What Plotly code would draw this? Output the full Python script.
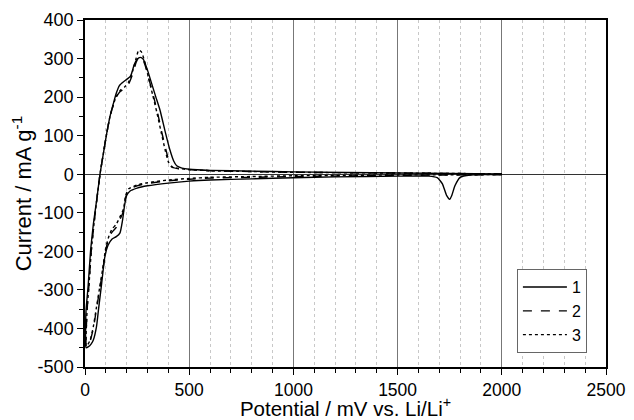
import plotly.graph_objects as go

# ---------- Data (loop: cathodic sweep, then anodic) ----------

X1 = [2000, 1900, 1850, 1800, 1775, 1760, 1750, 1735, 1715, 1690, 1650, 1500, 1200, 1000, 800, 600, 500,
      400, 300, 250, 215, 200, 190, 180, 168, 150, 130, 110, 95, 80, 65, 55, 40, 30, 15, 5,
      3, 5, 15, 27, 40, 56, 72, 90, 104, 120, 136, 150, 165, 185, 205, 220, 235, 250, 265, 280,
      300, 320, 340, 360, 385, 408, 425, 440, 465, 500, 600, 800, 1000, 1500, 2000]
Y1 = [-1, -1, -2, -8, -30, -55, -65, -55, -25, -9, -5, -5, -7, -9, -12, -15, -18,
      -23, -30, -36, -44, -55, -80, -120, -152, -162, -168, -185, -215, -283, -350, -396, -430, -440, -448, -450,
      -400, -353, -290, -197, -130, -67, 0, 60, 105, 150, 183, 210, 230, 240, 248, 256, 282, 298, 303, 298,
      270, 235, 200, 166, 110, 62, 35, 22, 16, 13, 10, 8, 6, 3, 1]

X2 = [2000, 1500, 1000, 800, 600, 500, 400, 300, 250, 210, 195, 185, 170, 150, 130, 115, 100, 85, 70,
      55, 40, 25, 12, 5,
      5, 10, 20, 30, 45, 58, 72, 90, 104, 120, 136, 150, 170, 190, 210, 230, 245, 260, 275, 290,
      310, 330, 350, 370, 390, 405, 420, 450, 500, 600, 800, 1000, 1500, 2000]
Y2 = [-1, -3, -6, -8, -10, -13, -17, -24, -30, -40, -60, -95, -115, -138, -150, -165, -195, -250, -300,
      -350, -400, -432, -445, -447,
      -420, -353, -280, -200, -120, -60, 0, 60, 105, 150, 180, 200, 215, 222, 235, 262, 290, 305, 300, 280,
      240, 200, 155, 105, 60, 30, 18, 14, 12, 9, 7, 5, 3, 1]

X3 = [2000, 1500, 1000, 800, 600, 500, 400, 300, 250, 210, 195, 185, 170, 150, 130, 115, 100, 85, 70,
      55, 40, 25, 12, 5,
      5, 10, 20, 30, 45, 58, 72, 90, 104, 120, 136, 150, 170, 190, 210, 230, 245, 258, 270, 285,
      305, 325, 345, 365, 385, 400, 415, 450, 500, 600, 800, 1000, 1500, 2000]
Y3 = [-1, -2, -4, -6, -8, -11, -15, -22, -28, -38, -55, -90, -108, -130, -142, -160, -190, -245, -295,
      -345, -395, -430, -443, -446,
      -420, -353, -280, -200, -120, -60, 0, 60, 105, 150, 180, 202, 218, 226, 240, 270, 300, 322, 318, 295,
      250, 205, 160, 110, 62, 32, 19, 15, 12, 9, 7, 5, 3, 1]

CURVES = [("1", X1, Y1, "solid"), ("2", X2, Y2, "dash"), ("3", X3, Y3, "dot")]

X_TICKS = [0, 500, 1000, 1500, 2000, 2500]
Y_TICKS = [-500, -400, -300, -200, -100, 0, 100, 200, 300, 400]
Y_TICKTEXT = ["-500", "-400", "-300", "-200", "-100", "0", "100", "200", "300", "400"]

FONT = "Liberation Sans, Arial, Helvetica, sans-serif"

fig = go.Figure()
for name, xs, ys, dash in CURVES:
    fig.add_trace(go.Scatter(
        x=xs, y=ys, mode="lines", name=name,
        line=dict(color="black", width=1.4, dash=dash, shape="spline", smoothing=0.5),
    ))

# the page body has an 8px margin, so the figure is 8px smaller than the window
fig.update_layout(
    width=626, height=412,
    margin=dict(l=77, r=28, t=12, b=53, autoexpand=False),
    paper_bgcolor="white", plot_bgcolor="white",
    font=dict(family=FONT, size=18, color="black"),
    showlegend=True,
    legend=dict(x=0.829, xanchor="left", y=0.282, yanchor="top",
                bordercolor="#666", borderwidth=1, bgcolor="white",
                itemwidth=44, font=dict(family=FONT, size=16)),
)

fig.update_xaxes(
    range=[0, 2500], tickvals=X_TICKS, automargin=False,
    tickfont=dict(family=FONT, size=17.5),
    showline=True, linecolor="black", linewidth=1.5, mirror=True,
    ticks="outside", ticklen=6, tickcolor="black",
    showgrid=True, gridcolor="#777", gridwidth=1,
    zeroline=False,
    minor=dict(dtick=100, showgrid=True, gridcolor="#c8c8c8", griddash="dot",
               ticks="outside", ticklen=4, tickcolor="black"),
    title=dict(text="Potential / mV vs. Li/Li<sup>+</sup>", standoff=4,
               font=dict(family=FONT, size=20.5, color="black")),
)
fig.update_yaxes(
    range=[-500, 400], tickvals=Y_TICKS, ticktext=Y_TICKTEXT, automargin=False,
    showline=True, linecolor="black", linewidth=1.5, mirror=True,
    ticks="outside", ticklen=6, tickcolor="black",
    showgrid=False,
    zeroline=True, zerolinecolor="#333", zerolinewidth=1,
    minor=dict(dtick=50, ticks="outside", ticklen=4, tickcolor="black", showgrid=False),
    title=dict(text="Current / mA g<sup>-1</sup>", standoff=2,
               font=dict(family=FONT, size=22, color="black")),
)

fig.write_html("out.html")
